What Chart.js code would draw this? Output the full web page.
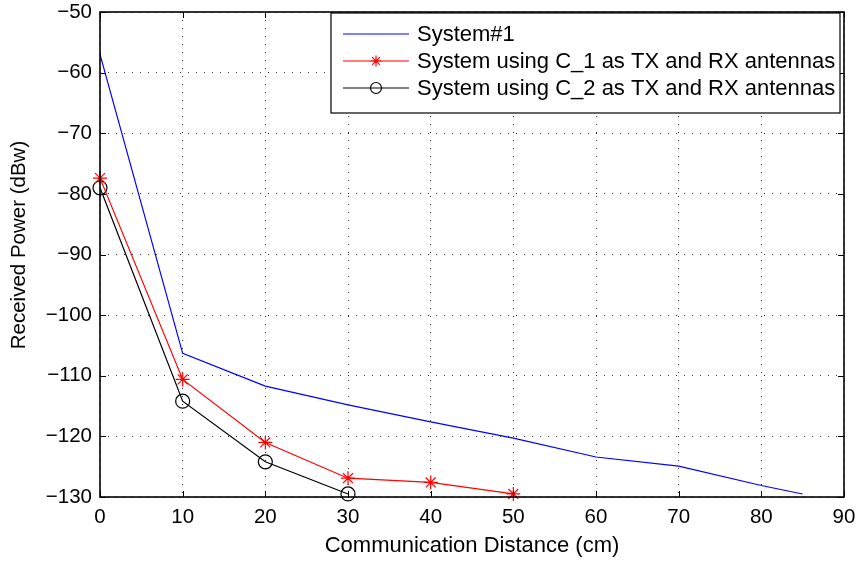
<!DOCTYPE html>
<html>
<head>
<meta charset="utf-8">
<script src="https://cdn.jsdelivr.net/npm/chart.js@4/dist/chart.umd.min.js"></script>
<style>
  html, body { margin: 0; padding: 0; background: #fff; }
  #wrap { width: 858px; height: 561px; position: relative; }
</style>
</head>
<body>
<div id="wrap"><canvas id="c" width="858" height="561"></canvas></div>
<script>
// Received power versus communication distance
const distance = [0, 10, 20, 30, 40, 50, 60, 70, 80, 85];
const system1 = [-57.0, -106.3, -111.7, -114.8, -117.6, -120.3, -123.4, -124.9, -128.1, -129.5];

const c1Distance = [0, 10, 20, 30, 40, 50];
const c1Power = [-77.4, -110.6, -121.0, -126.9, -127.6, -129.5];

const c2Distance = [0, 10, 20, 30];
const c2Power = [-79.0, -114.2, -124.2, -129.5];

const seriesNames = [
  'System#1',
  'System using C_1 as TX and RX antennas',
  'System using C_2 as TX and RX antennas'
];

const xTicks = [0, 10, 20, 30, 40, 50, 60, 70, 80, 90];
const yTicks = [-130, -120, -110, -100, -90, -80, -70, -60, -50];

const xTitle = 'Communication Distance (cm)';
const yTitle = 'Received Power (dBw)';

const FONT = '"Liberation Sans", Arial, Helvetica, sans-serif';

function pairs(xs, ys) {
  return xs.map((x, i) => ({ x: x, y: ys[i] }));
}

// MATLAB-style box with inward tick marks on all four sides
const boxPlugin = {
  id: 'box',
  afterDatasetsDraw(chart) {
    const { ctx, chartArea: a, scales } = chart;
    const len = 6;
    ctx.save();
    ctx.strokeStyle = '#000';
    ctx.lineWidth = 1;
    ctx.beginPath();
    xTicks.forEach(v => {
      const px = Math.round(scales.x.getPixelForValue(v)) + 0.5;
      ctx.moveTo(px, a.bottom); ctx.lineTo(px, a.bottom - len);
      ctx.moveTo(px, a.top); ctx.lineTo(px, a.top + len);
    });
    yTicks.forEach(v => {
      const py = Math.round(scales.y.getPixelForValue(v)) + 0.5;
      ctx.moveTo(a.left, py); ctx.lineTo(a.left + len, py);
      ctx.moveTo(a.right, py); ctx.lineTo(a.right - len, py);
    });
    ctx.stroke();
    ctx.lineWidth = 1.6;
    ctx.strokeRect(a.left, a.top, a.right - a.left, a.bottom - a.top);
    ctx.restore();
  }
};

// Vertical axis title, set a little above the middle of the axes
const yTitlePlugin = {
  id: 'yTitle',
  afterDraw(chart) {
    const { ctx } = chart;
    ctx.save();
    ctx.translate(19, 245);
    ctx.rotate(-Math.PI / 2);
    ctx.font = '20.5px ' + FONT;
    ctx.fillStyle = '#000';
    ctx.textAlign = 'center';
    ctx.textBaseline = 'middle';
    ctx.fillText(yTitle, 0, 0);
    ctx.restore();
  }
};

// Boxed legend in the upper right corner of the axes
const legendPlugin = {
  id: 'boxLegend',
  afterDraw(chart) {
    const { ctx, chartArea: a } = chart;
    const right = a.right - 4;
    const left = right - 509;
    const top = a.top + 1;
    const bottom = top + 100;
    ctx.save();
    ctx.fillStyle = '#fff';
    ctx.fillRect(left, top, right - left, bottom - top);
    ctx.strokeStyle = '#000';
    ctx.lineWidth = 1.2;
    ctx.strokeRect(left, top, right - left, bottom - top);
    ctx.font = '22px ' + FONT;
    ctx.textBaseline = 'middle';
    ctx.textAlign = 'left';
    chart.data.datasets.forEach((ds, i) => {
      const y = top + 21 + i * 27;
      const x0 = left + 12, x1 = left + 78;
      ctx.strokeStyle = ds.borderColor;
      ctx.lineWidth = ds.borderWidth;
      ctx.beginPath(); ctx.moveTo(x0, y); ctx.lineTo(x1, y); ctx.stroke();
      if (ds.pointStyle && ds.pointRadius > 0) {
        ctx.fillStyle = 'rgba(0,0,0,0)';
        ctx.strokeStyle = ds.pointBorderColor;
        ctx.lineWidth = ds.pointBorderWidth || 1;
        Chart.helpers.drawPoint(ctx, {
          pointStyle: ds.pointStyle,
          radius: ds.pointRadius - 1.5,
          borderWidth: ds.pointBorderWidth || 1
        }, (x0 + x1) / 2, y);
      }
      ctx.fillStyle = '#000';
      ctx.fillText(ds.label, left + 86, y + 1);
    });
    ctx.restore();
  }
};

const dotted = {
  color: 'rgba(0,0,0,0.85)',
  lineWidth: 1,
  drawTicks: false
};

new Chart(document.getElementById('c'), {
  type: 'line',
  data: {
    datasets: [
      {
        label: seriesNames[0],
        data: pairs(distance, system1),
        borderColor: '#0000ff',
        borderWidth: 1.2,
        pointRadius: 0,
        pointStyle: false,
        tension: 0,
        clip: false
      },
      {
        label: seriesNames[1],
        data: pairs(c1Distance, c1Power),
        borderColor: '#ff0000',
        borderWidth: 1.2,
        pointStyle: 'star',
        pointRadius: 7,
        pointBorderColor: '#ff0000',
        pointBackgroundColor: '#ff0000',
        pointBorderWidth: 1.2,
        tension: 0,
        clip: false
      },
      {
        label: seriesNames[2],
        data: pairs(c2Distance, c2Power),
        borderColor: '#000000',
        borderWidth: 1.2,
        pointStyle: 'circle',
        pointRadius: 7,
        pointBorderColor: '#000000',
        pointBackgroundColor: 'rgba(0,0,0,0)',
        pointBorderWidth: 1.2,
        tension: 0,
        clip: false
      }
    ]
  },
  options: {
    responsive: false,
    animation: false,
    events: [],
    layout: { padding: { top: 12, right: 14, left: 0, bottom: 0 } },
    plugins: {
      legend: { display: false },
      tooltip: { enabled: false }
    },
    scales: {
      x: {
        type: 'linear',
        min: 0,
        max: 90,
        afterBuildTicks(scale) { scale.ticks = xTicks.map(v => ({ value: v })); },
        afterFit(scale) {
          scale.height = 64;
          scale.paddingLeft = 0;
          scale.paddingRight = 0;
        },
        border: { display: false, dash: [1, 7] },
        grid: dotted,
        ticks: {
          padding: 8,
          color: '#000',
          font: { family: FONT, size: 20.5 },
          maxRotation: 0
        },
        title: {
          display: true,
          text: xTitle,
          color: '#000',
          font: { family: FONT, size: 22 },
          padding: { top: 0, bottom: 2 }
        }
      },
      y: {
        type: 'linear',
        min: -130,
        max: -50,
        afterBuildTicks(scale) { scale.ticks = yTicks.map(v => ({ value: v })); },
        afterFit(scale) {
          scale.width = 100;
          scale.paddingTop = 0;
          scale.paddingBottom = 0;
        },
        border: { display: false, dash: [1, 7] },
        grid: dotted,
        ticks: {
          padding: 8,
          color: '#000',
          font: { family: FONT, size: 20.5 },
          callback: v => String(v).replace('-', '\u2212')
        },
        title: { display: false }
      }
    }
  },
  plugins: [boxPlugin, yTitlePlugin, legendPlugin]
});
</script>
</body>
</html>
